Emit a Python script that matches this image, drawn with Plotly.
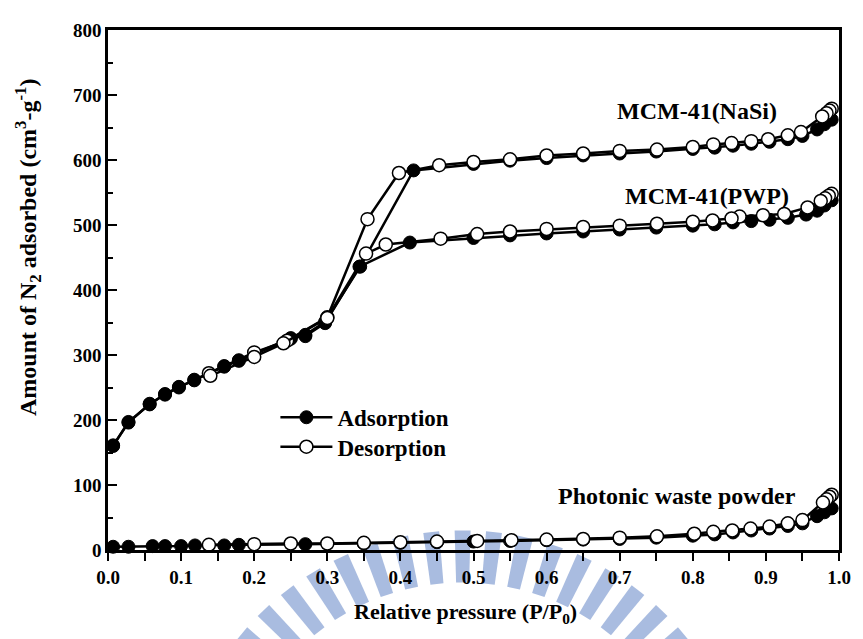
import math
import plotly.graph_objects as go

FONT = "Liberation Serif"

# ---------------- data ----------------
nasi_ads_x = [0.007, 0.028, 0.057, 0.078, 0.097, 0.118, 0.159, 0.179, 0.25, 0.27, 0.297,
              0.345, 0.418, 0.5, 0.55, 0.6, 0.65, 0.7, 0.75, 0.8, 0.83, 0.855, 0.88,
              0.905, 0.93, 0.95, 0.97, 0.98, 0.99]
nasi_ads_y = [160, 197, 224, 240, 251, 261, 283, 291, 325, 331, 351,
              436, 584, 594, 599, 603, 607, 610, 613, 617, 619, 622, 625,
              628, 632, 637, 647, 655, 662]
nasi_des_x = [0.99, 0.987, 0.983, 0.977, 0.948, 0.93, 0.903, 0.88, 0.853, 0.828, 0.8,
              0.751, 0.7, 0.65, 0.6, 0.55, 0.5, 0.453, 0.398, 0.355, 0.3, 0.245, 0.2, 0.138]
nasi_des_y = [679, 676, 672, 667, 643, 638, 632, 629, 626, 624, 620,
              616, 614, 610, 607, 601, 597, 592, 580, 509, 358, 322, 304, 272]

pwp_ads_x = [0.007, 0.028, 0.057, 0.078, 0.097, 0.118, 0.159, 0.179, 0.25, 0.27, 0.297,
             0.344, 0.413, 0.5, 0.55, 0.6, 0.65, 0.7, 0.75, 0.8, 0.83, 0.855, 0.88,
             0.905, 0.93, 0.955, 0.97, 0.98, 0.99]
pwp_ads_y = [161, 196, 225, 239, 250, 262, 282, 292, 326, 329, 349,
             436, 473, 480, 484, 487, 490, 493, 496, 499, 501, 504, 506,
             508, 511, 516, 522, 530, 538]
pwp_des_x = [0.99, 0.986, 0.981, 0.975, 0.957, 0.925, 0.896, 0.864, 0.853, 0.827, 0.8,
             0.751, 0.7, 0.65, 0.6, 0.55, 0.505, 0.455, 0.38, 0.353, 0.3, 0.24, 0.2, 0.14]
pwp_des_y = [548, 545, 541, 537, 527, 517, 515, 513, 510, 507, 505,
             502, 499, 497, 494, 490, 486, 479, 470, 456, 357, 318, 297, 268]

pwd_ads_x = [0.007, 0.028, 0.061, 0.078, 0.1, 0.119, 0.159, 0.179, 0.27, 0.35, 0.4,
             0.45, 0.5, 0.55, 0.6, 0.65, 0.7, 0.75, 0.8, 0.83, 0.855, 0.88, 0.905,
             0.93, 0.95, 0.97, 0.98, 0.99]
pwd_ads_y = [5, 5, 6, 6, 6, 7, 7, 8, 9, 10, 11,
             12, 13, 14, 15, 16, 17, 19, 22, 24, 27, 30, 33,
             37, 41, 52, 58, 64]
pwd_des_x = [0.99, 0.987, 0.983, 0.978, 0.95, 0.93, 0.905, 0.879, 0.854, 0.828, 0.802,
             0.751, 0.7, 0.65, 0.6, 0.552, 0.505, 0.45, 0.4, 0.35, 0.3, 0.25, 0.2, 0.138]
pwd_des_y = [85, 82, 78, 73, 46, 41, 36, 33, 30, 28, 25,
             21, 19, 17, 16, 15, 14, 13, 12, 11, 10, 10, 9, 8]

x_ticks = [0.0, 0.1, 0.2, 0.3, 0.4, 0.5, 0.6, 0.7, 0.8, 0.9, 1.0]
y_ticks = [0, 100, 200, 300, 400, 500, 600, 700, 800]

sample_labels = ["MCM-41(NaSi)", "MCM-41(PWP)", "Photonic waste powder"]
sample_label_x = [0.806, 0.82, 0.779]
sample_label_y = [676, 545, 83]

# ---------------- figure ----------------
# The page adds an 8 px body margin, so the figure is 8 px smaller and
# all page-pixel positions below are shifted by it.
OFF = 8
W, H = 863 - OFF, 639 - OFF
L, R, T, B = 108, 846, 21, 550          # plot area in page pixels

def p2x(px):
    return (px - L) / (R - L)

def p2y(py):
    return (B - py) / (B - T)

fig = go.Figure()

ads_style = dict(mode="lines+markers", line=dict(color="black", width=2.5),
                 marker=dict(symbol="circle", size=13, color="black",
                             line=dict(color="black", width=1)),
                 cliponaxis=False, showlegend=False, hoverinfo="skip")
des_style = dict(mode="lines+markers", line=dict(color="black", width=2.5),
                 marker=dict(symbol="circle", size=13, color="white",
                             line=dict(color="black", width=1.5)),
                 cliponaxis=False, showlegend=False, hoverinfo="skip")

for xs, ys in [(nasi_ads_x, nasi_ads_y), (pwp_ads_x, pwp_ads_y), (pwd_ads_x, pwd_ads_y)]:
    fig.add_trace(go.Scatter(x=xs, y=ys, **ads_style))
for xs, ys in [(nasi_des_x, nasi_des_y), (pwp_des_x, pwp_des_y), (pwd_des_x, pwd_des_y)]:
    fig.add_trace(go.Scatter(x=xs, y=ys, **des_style))

# legend entries (one legend each to control spacing)
fig.add_trace(go.Scatter(x=[None], y=[None], name="Adsorption", mode="lines+markers",
                         line=dict(color="black", width=2.5),
                         marker=dict(size=13, color="black", line=dict(color="black", width=1)),
                         showlegend=True, legend="legend"))
fig.add_trace(go.Scatter(x=[None], y=[None], name="Desorption", mode="lines+markers",
                         line=dict(color="black", width=2.5),
                         marker=dict(size=13, color="white", line=dict(color="black", width=1.5)),
                         showlegend=True, legend="legend2"))

# ---------------- watermark (approximate) ----------------
cx, cy = 466, 819
r_out, r_in = 289, 236
shapes = []
for k in range(-9, 10):
    th = math.radians(k * 6.3)
    hw = math.radians(1.6)
    pts = []
    for r, a in [(r_in, th - hw), (r_out, th - hw), (r_out, th + hw), (r_in, th + hw)]:
        pts.append((cx + r * math.sin(a), cy - r * math.cos(a)))
    path = "M " + " L ".join(f"{p2x(px):.4f},{p2y(py):.4f}" for px, py in pts) + " Z"
    shapes.append(dict(type="path", path=path, xref="paper", yref="paper",
                       fillcolor="#A9BCE0", line=dict(width=0), layer="below"))

LEG_FONT = dict(family=FONT, size=23, color="black", weight="bold")
fig.update_layout(
    width=W, height=H,
    margin=dict(l=L - OFF, r=863 - R, t=T - OFF, b=639 - B),
    paper_bgcolor="white", plot_bgcolor="rgba(0,0,0,0)",
    font=dict(family=FONT, color="black", size=19),
    shapes=shapes,
    legend=dict(x=p2x(277), y=p2y(415), xanchor="left", yanchor="middle",
                bgcolor="rgba(0,0,0,0)", borderwidth=0, itemwidth=52, font=LEG_FONT),
    legend2=dict(x=p2x(277), y=p2y(445), xanchor="left", yanchor="middle",
                 bgcolor="rgba(0,0,0,0)", borderwidth=0, itemwidth=52, font=LEG_FONT),
)

axis_common = dict(showline=True, linewidth=2.5, linecolor="black", mirror=True,
                   showgrid=False, zeroline=False,
                   tickfont=dict(family=FONT, size=19, color="black", weight="bold"))

fig.update_xaxes(range=[0, 1.0], tickvals=x_ticks, ticktext=[f"{v:.1f}" for v in x_ticks],
                 ticks="outside", ticklen=8, tickwidth=2, tickcolor="black",
                 minor=dict(dtick=0.05, tick0=0, ticks="outside", ticklen=8, tickwidth=2,
                            tickcolor="black"),
                 **axis_common)
fig.update_yaxes(range=[0, 800], tickvals=y_ticks, ticktext=[str(v) for v in y_ticks],
                 ticks="inside", ticklen=9, tickwidth=2, tickcolor="black",
                 minor=dict(dtick=50, tick0=0, ticks="inside", ticklen=5, tickwidth=2,
                            tickcolor="black"),
                 **axis_common)

annotations = []
for t, ax_, ay_ in zip(sample_labels, sample_label_x, sample_label_y):
    annotations.append(dict(text=f"<b>{t}</b>", x=ax_, y=ay_, xref="x", yref="y",
                            showarrow=False, font=dict(family=FONT, size=24, color="black")))
annotations.append(dict(text="<b>Relative pressure (P/P<sub>0</sub>)</b>",
                        x=p2x(469), y=p2y(614), xref="paper", yref="paper", showarrow=False,
                        xanchor="center", yanchor="middle",
                        font=dict(family=FONT, size=22, color="black")))
annotations.append(dict(text="<b>Amount of N<sub>2</sub> adsorbed (cm<sup>3</sup>-g<sup>-1</sup>)</b>",
                        x=p2x(27), y=p2y(242), xref="paper", yref="paper", showarrow=False,
                        textangle=-90, xanchor="center", yanchor="middle",
                        font=dict(family=FONT, size=24, color="black")))
fig.update_layout(annotations=annotations)

fig.write_html("out.html")
